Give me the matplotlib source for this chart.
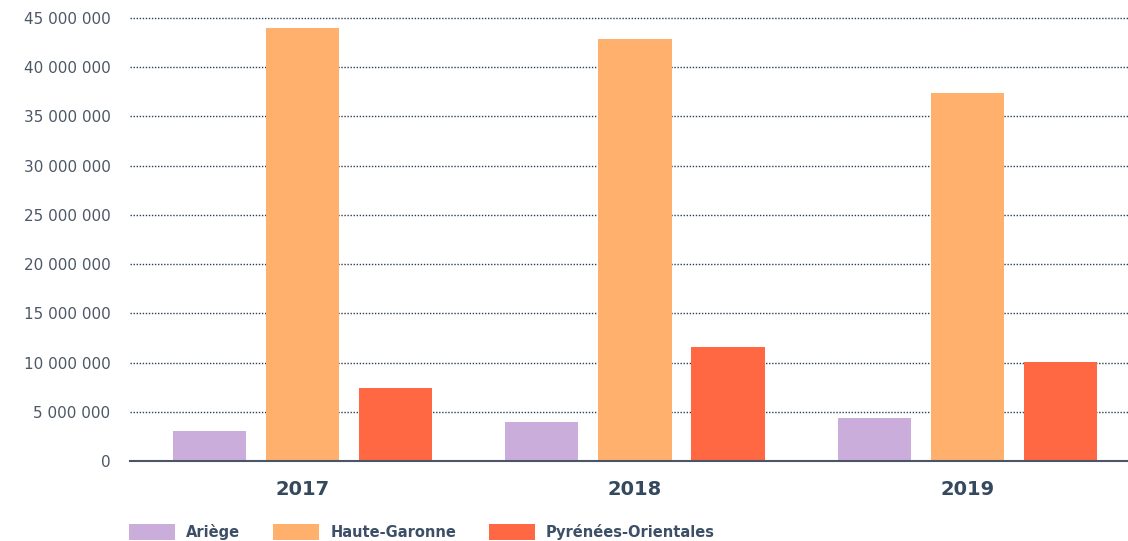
import matplotlib
matplotlib.use("Agg")
import matplotlib.pyplot as plt
import numpy as np

years = ["2017", "2018", "2019"]
series_names = ["Ariège", "Haute-Garonne", "Pyrénées-Orientales"]
ariege = [3050000, 3960000, 4370000]
haute_garonne = [44000000, 42870000, 37380000]
pyrenees_orientales = [7420000, 11580000, 10060000]
yticks = [0, 5000000, 10000000, 15000000, 20000000, 25000000, 30000000, 35000000, 40000000, 45000000]

colors = ["#CBADDB", "#FFB06D", "#FF6843"]
plt.rcParams['font.family'] = ['DejaVu Sans']

W, H = 1128, 541
fig = plt.figure(figsize=(W / 100, H / 100), dpi=100)
ax = fig.add_axes([130 / W, (H - 461) / H, 1 - 130 / W, (461 - 18) / H])

x = np.arange(len(years))
offsets = [-0.28, 0.0, 0.28]
width = 0.22
data = [ariege, haute_garonne, pyrenees_orientales]
handles = []
for off, vals, col, name in zip(offsets, data, colors, series_names):
    b = ax.bar(x + off, vals, width=width, color=col, label=name, zorder=3)
    handles.append(b)

ax.set_xlim(-0.519, 2.483)
ax.set_ylim(0, 45000000)
ax.set_yticks(yticks)
ax.set_yticklabels([f"{v:,}".replace(",", " ") for v in yticks])
ax.set_xticks(x)
ax.set_xticklabels(years, fontsize=14, fontweight='bold', color="#34495E")
ax.tick_params(axis='y', length=0, pad=14, labelsize=11, labelcolor="#4D5866")
ax.tick_params(axis='x', length=0, pad=14)

for v in yticks[1:]:
    ax.axhline(v, color="#2C3E50", linestyle=(0, (1, 1.2)), linewidth=1.0, zorder=1, clip_on=False)

for s in ["top", "right", "left"]:
    ax.spines[s].set_visible(False)
ax.spines["bottom"].set_color("#4A5568")
ax.spines["bottom"].set_linewidth(1.5)
ax.spines["bottom"].set_zorder(4)

fs = 10.5
fspx = fs * 100 / 72
leg = fig.legend(handles=handles, labels=series_names, loc='lower left',
                 bbox_to_anchor=(129 / W, 1 / H), ncol=3, frameon=False,
                 handlelength=46 / fspx, handleheight=18 / fspx,
                 handletextpad=11 / fspx, columnspacing=33 / fspx,
                 borderpad=0, borderaxespad=0,
                 prop={'size': fs, 'weight': 'semibold'})
for t in leg.get_texts():
    t.set_color("#3D4F66")

fig.savefig("out.png", dpi=100)
